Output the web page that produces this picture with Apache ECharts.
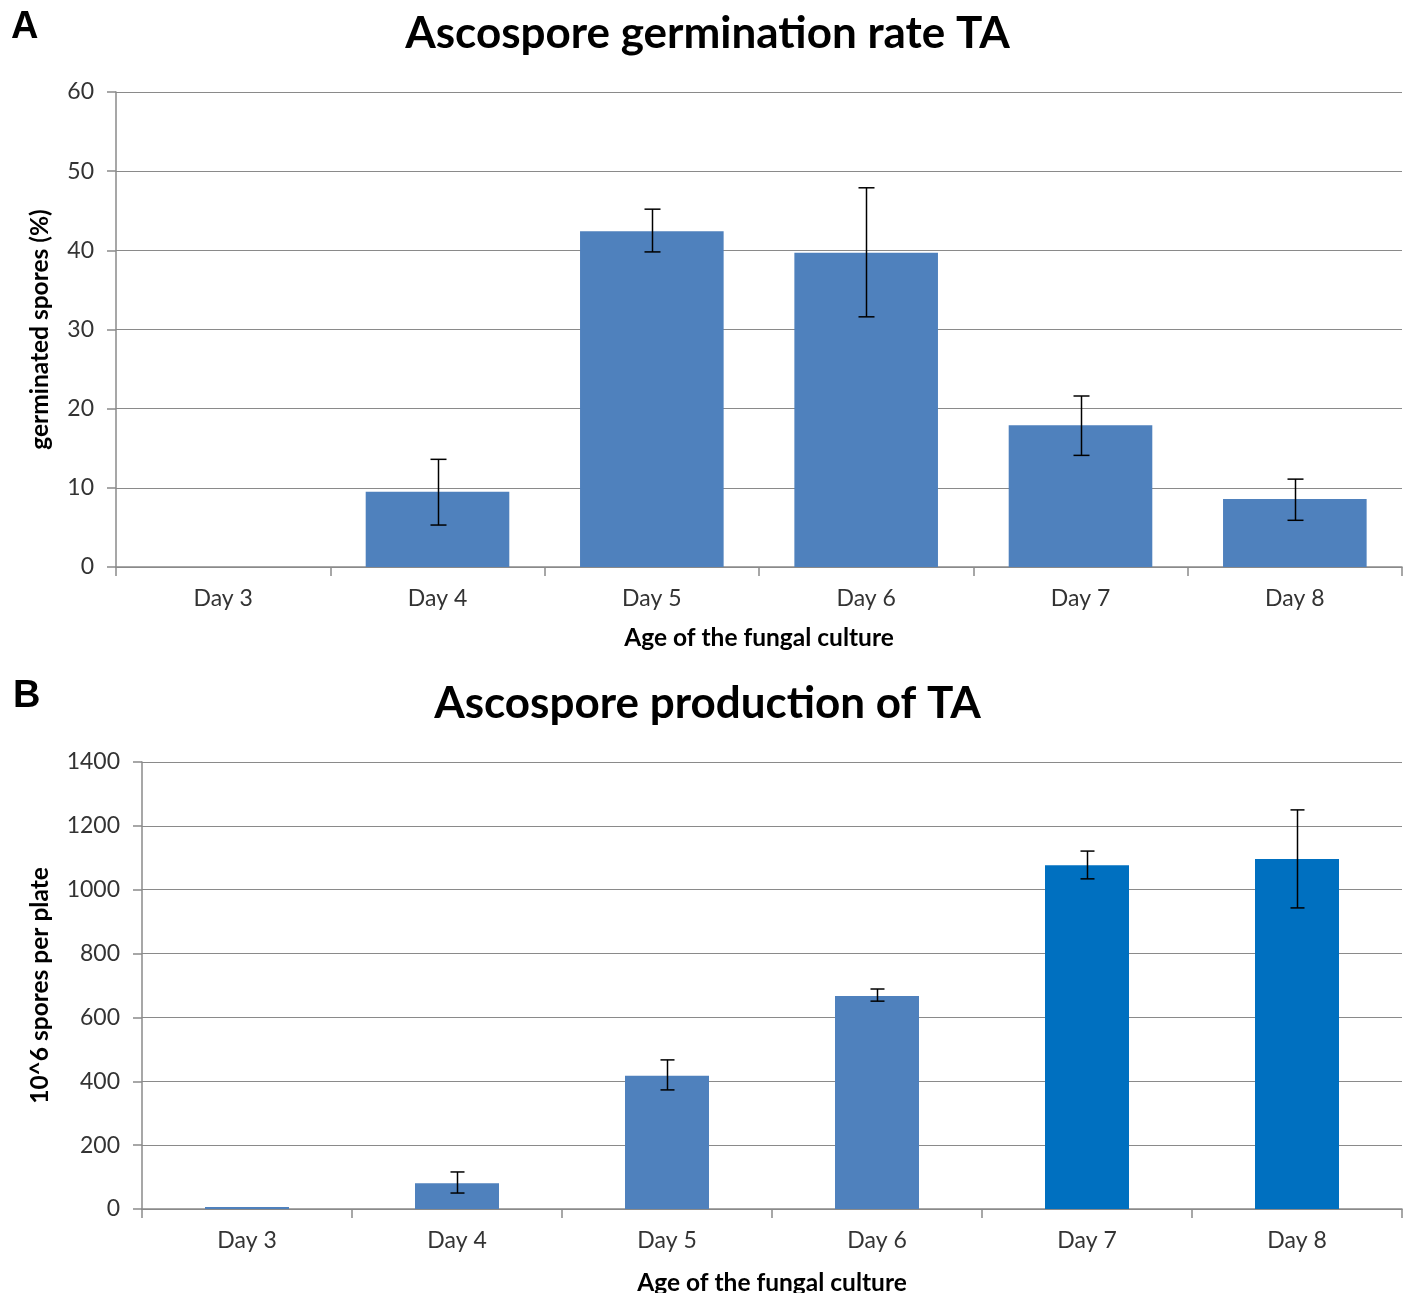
<!DOCTYPE html>
<html><head><meta charset="utf-8">
<script src="https://cdn.jsdelivr.net/npm/echarts@6/dist/echarts.min.js"></script>
<style>html,body{margin:0;padding:0;background:#fff}#c{width:1415px;height:1293px}</style>
</head><body><div id="c"></div>
<script>
const categories = ['Day 3','Day 4','Day 5','Day 6','Day 7','Day 8'];
const germValues = [0, 9.5, 42.4, 39.7, 17.9, 8.6];
const germErrLow = [0, 5.3, 39.8, 31.6, 14.1, 5.9];
const germErrHigh = [0, 13.6, 45.2, 47.9, 21.6, 11.1];
const prodValues = [6, 81, 417, 667, 1077, 1096];
const prodErrLow = [null, 50, 373, 651, 1034, 943];
const prodErrHigh = [null, 116, 467, 689, 1121, 1250];
const prodColors = ['#4F81BD','#4F81BD','#4F81BD','#4F81BD','#0070C0','#0070C0'];

const FONT = 'Lato, "Open Sans", sans-serif';
const GRID_C = '#8a8a8a';
const chart = echarts.init(document.getElementById('c'));

function errItem(capW){
  return function(params, api){
    const lo = api.value(1), hi = api.value(2);
    if (lo == null || hi == null || isNaN(lo) || isNaN(hi)) return;
    const p1 = api.coord([api.value(0), hi]);
    const p2 = api.coord([api.value(0), lo]);
    const x = Math.round(p1[0]) + 0.5;
    const st = {stroke:'#000', lineWidth:1.5};
    return {type:'group', children:[
      {type:'line', shape:{x1:x,y1:p1[1],x2:x,y2:p2[1]}, style:st},
      {type:'line', shape:{x1:x-capW/2,y1:p1[1],x2:x+capW/2,y2:p1[1]}, style:st},
      {type:'line', shape:{x1:x-capW/2,y1:p2[1],x2:x+capW/2,y2:p2[1]}, style:st}
    ]};
  };
}

function xAx(gi, gap){
  return {type:'category', gridIndex:gi, data:categories,
    axisLine:{lineStyle:{color:GRID_C,width:1.5}},
    axisTick:{show:true, alignWithLabel:false, length:9, lineStyle:{color:GRID_C,width:1.5}},
    axisLabel:{fontFamily:FONT, fontSize:23, color:'#333', margin:20},
    name:'Age of the fungal culture', nameLocation:'middle', nameGap:gap,
    nameTextStyle:{fontFamily:FONT, fontSize:24.5, fontWeight:'bold', color:'#000'}};
}
function yAx(gi, max, interval, name, gap){
  return {type:'value', gridIndex:gi, min:0, max:max, interval:interval,
    axisLine:{show:true, lineStyle:{color:GRID_C,width:1.5}},
    axisTick:{show:true, length:9, lineStyle:{color:GRID_C,width:1.5}},
    splitLine:{show:true, lineStyle:{color:GRID_C,width:1.2}},
    axisLabel:{fontFamily:FONT, fontSize:23, color:'#333', margin:22, formatter:v=>String(v)},
    name:name, nameLocation:'middle', nameGap:gap, nameRotate:90,
    nameTextStyle:{fontFamily:FONT, fontSize:24.5, fontWeight:'bold', color:'#000'}};
}

chart.setOption({
  animation:false,
  title:[
    {text:'Ascospore germination rate TA', left:'center', top:7,
     textStyle:{fontFamily:FONT, fontSize:44, fontWeight:'bold', color:'#000'}},
    {text:'Ascospore production of TA', left:'center', top:677,
     textStyle:{fontFamily:FONT, fontSize:44, fontWeight:'bold', color:'#000'}},
    {text:'A', left:6, top:4, textStyle:{fontFamily:'"Liberation Sans", Arial, sans-serif', fontSize:38, fontWeight:'bold', color:'#000'}},
    {text:'B', left:8, top:673, textStyle:{fontFamily:'"Liberation Sans", Arial, sans-serif', fontSize:38, fontWeight:'bold', color:'#000'}}
  ],
  grid:[
    {left:116, right:13, top:92, height:475, containLabel:false, outerBoundsMode:'none'},
    {left:142, right:13, top:762, height:447, containLabel:false, outerBoundsMode:'none'}
  ],
  xAxis:[xAx(0, 59), xAx(1, 62)],
  yAxis:[yAx(0, 60, 10, 'germinated spores (%)', 63), yAx(1, 1400, 200, '10^6 spores per plate', 89)],
  series:[
    {type:'bar', xAxisIndex:0, yAxisIndex:0, data:germValues, barWidth:'67%',
     itemStyle:{color:'#4F81BD'}},
    {type:'custom', xAxisIndex:0, yAxisIndex:0, renderItem:errItem(16),
     data:categories.map((c,i)=>[i, germErrLow[i], germErrHigh[i]]).filter((d,i)=>germValues[i]>0), z:5},
    {type:'bar', xAxisIndex:1, yAxisIndex:1, barWidth:'40%',
     data:prodValues.map((v,i)=>({value:v, itemStyle:{color:prodColors[i]}}))},
    {type:'custom', xAxisIndex:1, yAxisIndex:1, renderItem:errItem(14),
     data:categories.map((c,i)=>[i, prodErrLow[i], prodErrHigh[i]]).filter(d=>d[1]!=null), z:5}
  ]
});
</script></body></html>
